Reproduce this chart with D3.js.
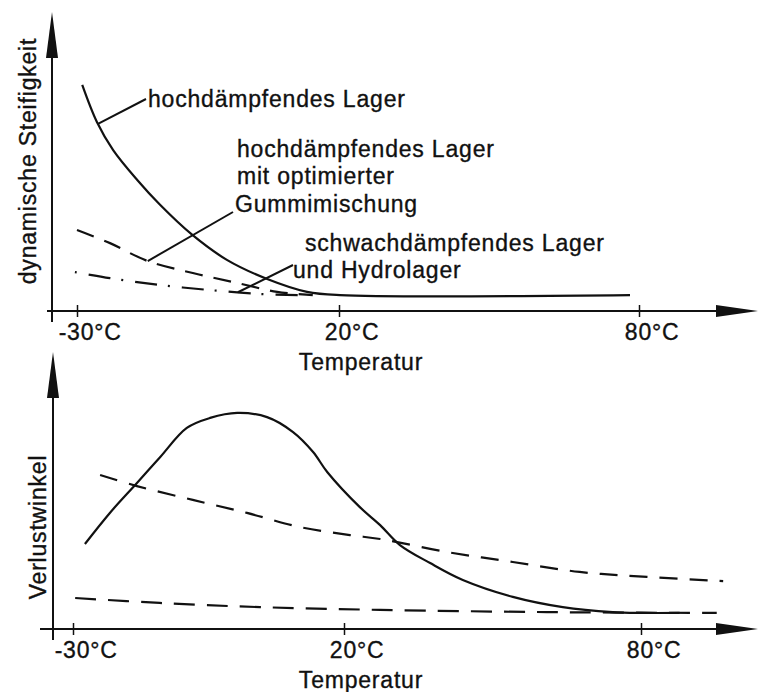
<!DOCTYPE html>
<html>
<head>
<meta charset="utf-8">
<script src="https://cdn.jsdelivr.net/npm/d3@7"></script>
<style>
  body { margin: 0; background: #fff; }
  svg { display: block; }
  text { font-family: "Liberation Sans", Arial, sans-serif; font-size: 23px; letter-spacing: 0.8px;
         fill: #111; stroke: #111; stroke-width: 0.35px; }
</style>
</head>
<body>
<svg width="760" height="692"></svg>
<script>
// temperature ticks in °C; curve values are relative (0 = on the axis, 100 = arrow tip)
var tempTicks = [-30, 20, 80];

// dynamische Steifigkeit
var stiffHigh = [[-29.0, 75.6], [-26.2, 63.2], [-23.1, 53.8], [-18.5, 43.8], [-14.2, 35.6], [-8.1, 25.6],
                 [-1.4, 17.1], [6.3, 10.7], [13.9, 6.4], [20.2, 5.3], [78.2, 5.3]];
var stiffOpt  = [[-30.0, 27.1], [-23.7, 22.7], [-16.5, 16.7], [-7.9, 12.7], [0.5, 9.4], [8.2, 6.4], [15.0, 5.3]];
var stiffLow  = [[-30.4, 13.0], [-23.7, 11.0], [-14.2, 8.7], [-4.6, 7.0], [4.9, 5.7], [12.6, 5.3]];

// Verlustwinkel
var lossHigh = [[-27.8, 30.7], [-23.2, 41.9], [-18.2, 52.7], [-13.9, 62.1], [-9.0, 72.6], [-4.7, 76.2],
                [0.3, 78.0], [5.8, 76.5], [10.6, 71.1], [14.3, 63.9], [16.9, 56.7], [23.2, 44.0],
                [27.3, 37.5], [31.3, 30.3], [37.4, 23.8], [44.0, 17.7], [54.1, 11.6], [64.2, 7.9],
                [74.3, 6.1], [80.0, 5.8], [87.8, 5.8]];
var lossOpt  = [[-25.0, 55.6], [-18.2, 51.6], [-7.9, 46.6], [2.1, 41.9], [11.9, 36.8], [21.2, 33.9],
                [27.3, 32.5], [40.8, 27.8], [54.1, 24.2], [67.6, 20.6], [81.2, 18.8], [96.6, 17.3]];
var lossLow  = [[-29.6, 11.2], [-14.0, 9.4], [4.5, 7.9], [27.3, 6.9], [61.0, 6.1], [95.3, 5.8]];

var stiffLabels = ["hochdämpfendes Lager", "hochdämpfendes Lager", "mit optimierter", "Gummimischung",
                   "schwachdämpfendes Lager", "und Hydrolager"];

var svg = d3.select("svg");
var ink = "#111";

// linear lookup on a series, used to hang the leader lines on the curves
function valueAt(series, t) {
  for (var i = 1; i < series.length; i++) {
    var a = series[i - 1], b = series[i];
    if (t <= b[0]) return a[1] + (b[1] - a[1]) * (t - a[0]) / (b[0] - a[0]);
  }
  return series[series.length - 1][1];
}

function panel(p) {
  var x = d3.scaleLinear().domain(tempTicks).range(p.xRange);
  var y = d3.scaleLinear().domain([0, 100]).range([p.axisY, p.top]);
  var g = svg.append("g");

  // axes with arrow heads
  g.append("line").attr("x1", p.xLeft).attr("x2", 722).attr("y1", p.axisY).attr("y2", p.axisY)
    .attr("stroke", ink).attr("stroke-width", 2);
  g.append("path").attr("d", "M716," + (p.axisY - 6) + "L758," + p.axisY + "L716," + (p.axisY + 6) + "Z")
    .attr("fill", ink);
  g.append("line").attr("x1", p.yAxisX).attr("x2", p.yAxisX).attr("y1", p.bottom).attr("y2", p.top + 40)
    .attr("stroke", ink).attr("stroke-width", 2);
  g.append("path")
    .attr("d", "M" + (p.yAxisX - 6) + "," + (p.top + 46) + "L" + p.yAxisX + "," + p.top + "L" + (p.yAxisX + 6) + "," + (p.top + 46) + "Z")
    .attr("fill", ink);

  var ax = g.append("g")
    .attr("transform", "translate(0," + p.axisY + ")")
    .call(d3.axisBottom(x).tickValues(tempTicks).tickSize(6).tickPadding(7)
      .tickFormat(function(d) { return d + "°C"; }));
  ax.select(".domain").remove();
  ax.attr("font-size", null).attr("font-family", null);
  ax.selectAll(".tick line").attr("y1", -6).attr("stroke", ink).attr("stroke-width", 1.5);
  ax.selectAll(".tick text").attr("dx", "0.55em").attr("fill", ink);

  g.append("text").attr("x", 361).attr("y", p.axisY + 59).attr("text-anchor", "middle").text("Temperatur");
  g.append("text")
    .attr("transform", "translate(" + p.labelX + "," + p.labelY + ") rotate(-90)")
    .attr("text-anchor", "middle").text(p.yLabel);

  var line = d3.line()
    .x(function(d) { return x(d[0]); })
    .y(function(d) { return y(d[1]); })
    .curve(d3.curveCatmullRom.alpha(0.5));

  p.series.forEach(function(s) {
    g.append("path").datum(s.data)
      .attr("d", line)
      .attr("fill", "none")
      .attr("stroke", ink)
      .attr("stroke-width", 2.2)
      .attr("stroke-dasharray", s.dash);
  });

  return { g: g, x: x, y: y };
}

var stiffPanel = panel({
  axisY: 311, top: 12, bottom: 322, xLeft: 47, yAxisX: 52, xRange: [77, 339, 639],
  labelX: 36, labelY: 161, yLabel: "dynamische Steifigkeit",
  series: [
    { data: stiffHigh, dash: null },
    { data: stiffOpt, dash: "18,11" },
    { data: stiffLow, dash: "2,12,22,11" }
  ]
});

var lossPanel = panel({
  axisY: 629, top: 352, bottom: 640, xLeft: 40, yAxisX: 53, xRange: [73, 344, 641],
  labelX: 46, labelY: 527, yLabel: "Verlustwinkel",
  series: [
    { data: lossHigh, dash: null },
    { data: lossOpt, dash: "18,12" },
    { data: lossLow, dash: "21,12" }
  ]
});

// leader lines from the curves to their captions
var leaders = [
  { series: stiffHigh, t: -26.0, end: [146, 99] },
  { series: stiffOpt, t: -16.5, end: [233, 212] },
  { series: stiffLow, t: 0.7, end: [293, 265] }
];
leaders.forEach(function(l) {
  stiffPanel.g.append("line")
    .attr("x1", stiffPanel.x(l.t)).attr("y1", stiffPanel.y(valueAt(l.series, l.t)))
    .attr("x2", l.end[0]).attr("y2", l.end[1])
    .attr("stroke", ink).attr("stroke-width", 2);
});

var labelPos = [[148, 107], [237, 157], [237, 184], [235, 212], [305, 251], [293, 278]];
stiffPanel.g.selectAll(".note").data(stiffLabels).enter().append("text")
  .attr("class", "note")
  .attr("x", function(d, i) { return labelPos[i][0]; })
  .attr("y", function(d, i) { return labelPos[i][1]; })
  .text(function(d) { return d; });
</script>
</body>
</html>
